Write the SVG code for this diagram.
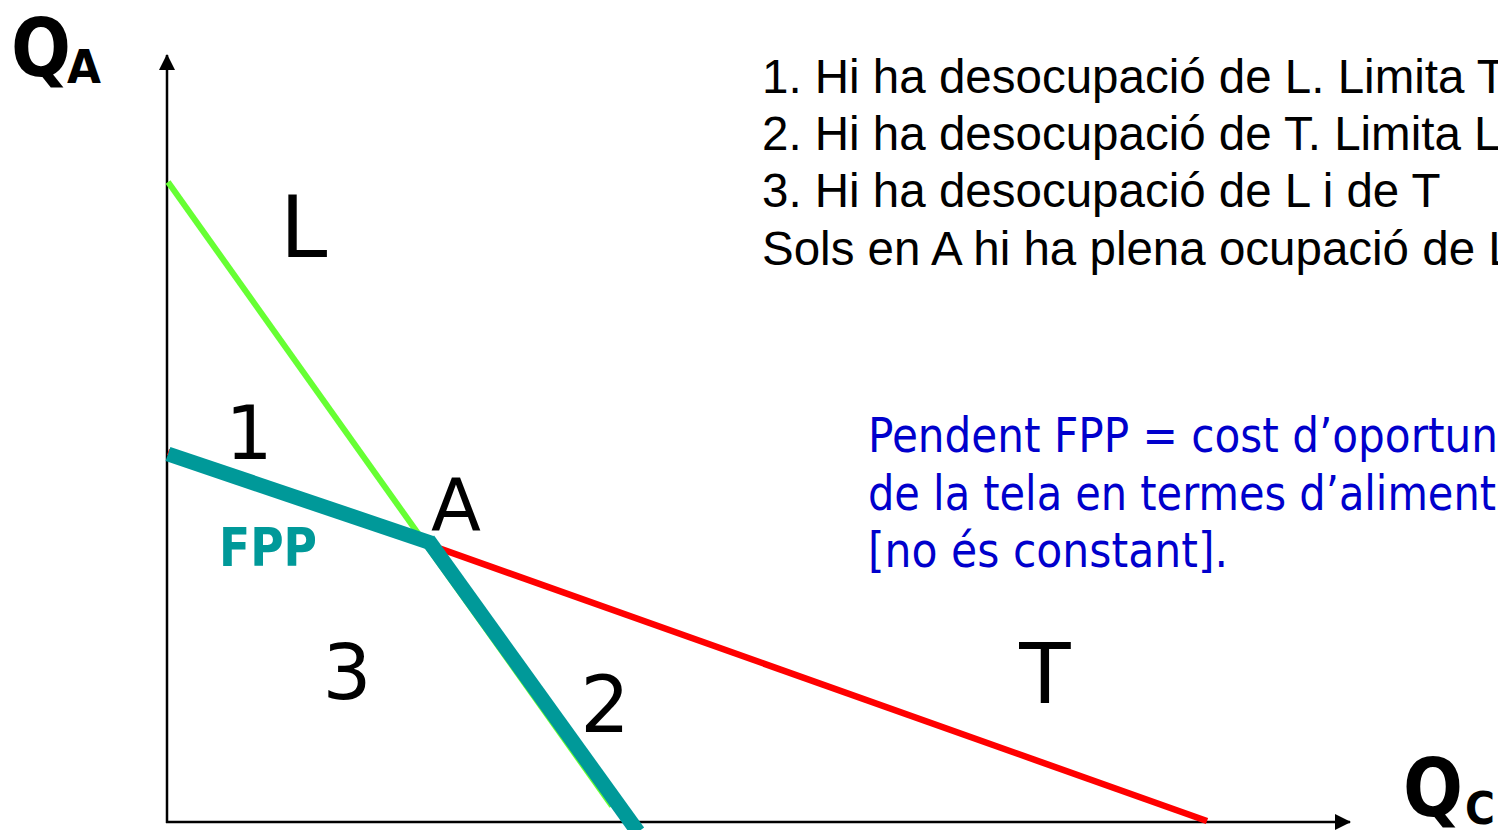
<svg xmlns="http://www.w3.org/2000/svg" width="1498" height="830" viewBox="0 0 1498 830">
<style>
.ax{stroke:#000;stroke-width:2.5;fill:none}
.lab{font-family:"DejaVu Sans",Verdana,sans-serif;fill:#000}
.big{font-family:"DejaVu Sans",Verdana,sans-serif;font-weight:bold;fill:#000}
.note{font-family:"Liberation Sans",Arial,sans-serif;font-size:47.5px;fill:#000}
.blue{font-family:"DejaVu Sans",Tahoma,sans-serif;font-size:48px;fill:#0000cc}
</style>
<defs>
<marker id="arr" viewBox="0 0 16 16" refX="15" refY="8" markerWidth="16" markerHeight="16" markerUnits="userSpaceOnUse" orient="auto">
<path d="M0,0 L16,8 L0,16 Z" fill="#000"/>
</marker>
</defs>
<rect width="1498" height="830" fill="#fff"/>
<g id="axes">
<line class="ax" x1="167" y1="823" x2="167" y2="55" marker-end="url(#arr)"/>
<line class="ax" x1="166" y1="822" x2="1350" y2="822" marker-end="url(#arr)"/>
</g>
<g id="connectors">
<line id="curve-L" x1="168" y1="182" x2="612" y2="806" stroke="#66ff33" stroke-width="6"/>
<line id="curve-T" x1="168" y1="452" x2="1207" y2="821" stroke="#ff0000" stroke-width="6.5"/>
<line x1="168" y1="454" x2="431" y2="543" stroke="#009999" stroke-width="15"/>
<line x1="428" y1="540" x2="638" y2="832" stroke="#009999" stroke-width="15"/>
</g>
<g id="axis-labels">
<text class="big" x="11" y="76" font-size="80" textLength="60" lengthAdjust="spacingAndGlyphs">Q</text>
<text class="big" x="67" y="83" font-size="47" textLength="34" lengthAdjust="spacingAndGlyphs">A</text>
<text class="big" x="1403" y="816" font-size="80" textLength="60" lengthAdjust="spacingAndGlyphs">Q</text>
<text class="big" x="1465" y="824" font-size="45" textLength="30" lengthAdjust="spacingAndGlyphs">C</text>
</g>
<g id="labels">
<text class="lab" x="280" y="257" font-size="85">L</text>
<text class="lab" x="249" y="459" font-size="74" text-anchor="middle">1</text>
<text class="lab" x="456" y="531" font-size="73" text-anchor="middle">A</text>
<text class="lab" x="347" y="699" font-size="77" text-anchor="middle">3</text>
<text class="lab" x="605" y="732" font-size="78" text-anchor="middle">2</text>
<text class="lab" x="1045" y="703" font-size="84" text-anchor="middle">T</text>
<text x="219" y="566" font-family="DejaVu Sans,Verdana,sans-serif" font-weight="bold" font-size="53" fill="#009999" textLength="98" lengthAdjust="spacingAndGlyphs">FPP</text>
</g>
<g id="notes">
<text class="note" x="762" y="93">1. Hi ha desocupació de L. Limita T</text>
<text class="note" x="762" y="150">2. Hi ha desocupació de T. Limita L</text>
<text class="note" x="762" y="207">3. Hi ha desocupació de L i de T</text>
<text class="note" x="762" y="265">Sols en A hi ha plena ocupació de L</text>
</g>
<g id="slope-note">
<text class="blue" x="868" y="452" textLength="630" lengthAdjust="spacingAndGlyphs">Pendent FPP = cost d’oportun</text>
<text class="blue" x="868" y="510" textLength="628" lengthAdjust="spacingAndGlyphs">de la tela en termes d’aliment</text>
<text class="blue" x="868" y="567" textLength="360" lengthAdjust="spacingAndGlyphs">[no és constant].</text>
</g>
</svg>
